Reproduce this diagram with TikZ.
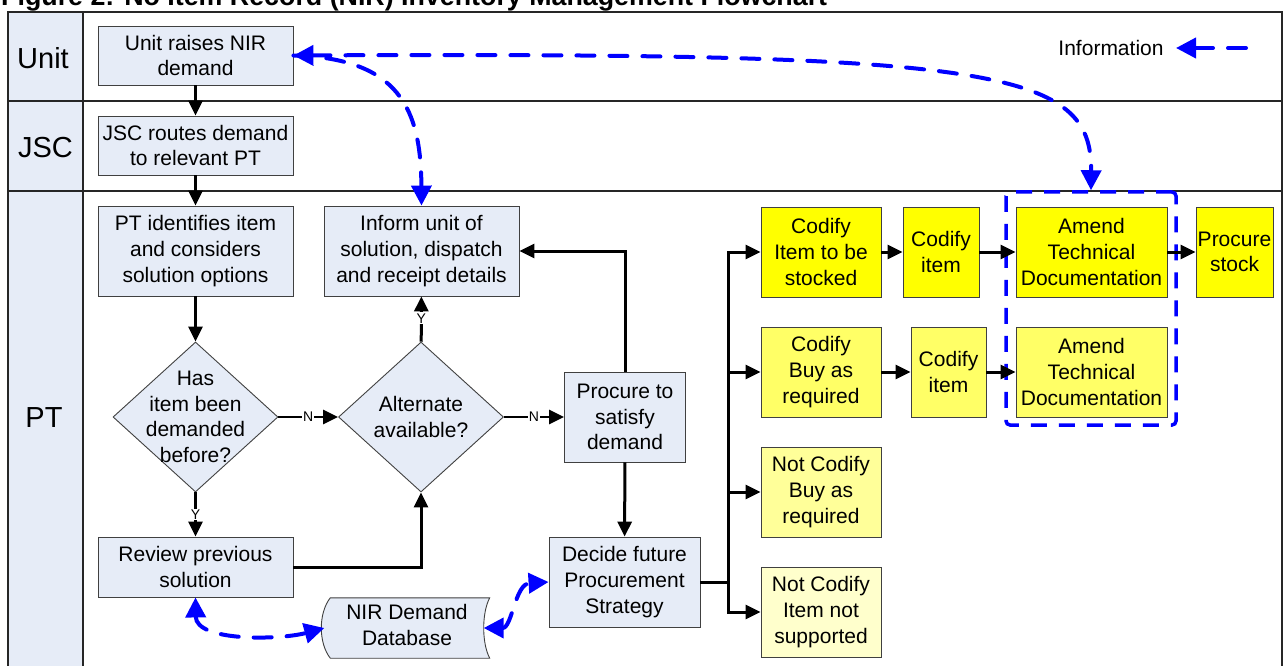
\documentclass[tikz,border=0pt]{standalone}
\usepackage{fontspec}
\setmainfont{Liberation Sans}
\usetikzlibrary{arrows.meta,shapes.geometric,calc}

\definecolor{laneblue}{RGB}{230,236,247}
\definecolor{boxline}{RGB}{64,64,64}
\definecolor{yelA}{RGB}{255,255,0}
\definecolor{yelB}{RGB}{255,255,102}
\definecolor{yelC}{RGB}{255,255,153}
\definecolor{yelD}{RGB}{255,255,204}
\definecolor{infoblue}{RGB}{0,0,255}

\begin{document}
\begin{tikzpicture}[x=1pt,y=-1pt,
  txt/.style={font=\fontsize{21}{25.7}\selectfont, align=center, inner sep=0pt},
  proc/.style={txt, draw=boxline, line width=0.9pt, fill=laneblue, minimum height=60pt},
  ybox/.style={txt, draw=boxline, line width=0.9pt, minimum height=90pt},
  decision/.style={diamond, draw=boxline, line width=0.9pt, fill=laneblue,
    minimum width=165pt, minimum height=150pt, inner sep=0pt},
  lanelabel/.style={font=\fontsize{29}{32}\selectfont, inner sep=0pt},
  flow/.style={draw=black, line width=3pt, -{Triangle[length=15pt,width=14pt]}},
  thinflow/.style={draw=black, line width=2.5pt, -{Triangle[length=15pt,width=14pt]}},
  plainline/.style={draw=black, line width=3pt},
  tag/.style={font=\fontsize{14}{15}\selectfont, fill=white, inner sep=1pt},
  info/.style={draw=infoblue, line width=4pt, line cap=round, dash pattern=on 18pt off 15pt},
  infoboth/.style={info, {Triangle[length=20pt,width=20pt]}-{Triangle[length=20pt,width=20pt]}},
  infoend/.style={info, -{Triangle[length=20pt,width=20pt]}},
  infostart/.style={info, {Triangle[length=20pt,width=20pt]}-},
]
\useasboundingbox (0,0) rectangle (1283,666);

% title (runs off the top edge)
\node[anchor=base west, inner sep=0pt, font=\bfseries\fontsize{26.8}{30}\selectfont] (title) at (1,6)
  {Figure 2: No Item Record (NIR) Inventory Management Flowchart};

% swimlanes
\fill[laneblue] (8,12) rectangle (83,690);
\draw[line width=1.4pt, draw=black!85] (8,12) rectangle (1282,690);
\draw[line width=1.4pt, draw=black!85] (83,12) -- (83,690);
\draw[line width=1.2pt, draw=black!85] (8,101) -- (1282,101);
\draw[line width=1.2pt, draw=black!85] (8,191) -- (1282,191);
\node[lanelabel] (lunit) at (43,58) {Unit};
\node[lanelabel] (ljsc) at (45.5,148) {JSC};
\node[lanelabel] (lpt) at (44,418) {PT};

% process boxes
\node[proc, minimum width=195pt, minimum height=59pt] (unit) at (195.5,55.5) {Unit raises NIR\\demand};
\node[proc, minimum width=195pt, minimum height=59pt] (jsc) at (195.5,145.5) {JSC routes demand\\to relevant PT};
\node[proc, minimum width=195pt, minimum height=90pt] (ptid) at (195.5,251) {PT identifies item\\and considers\\solution options};
\node[proc, minimum width=195pt, minimum height=90pt] (inform) at (421.5,251) {Inform unit of\\solution, dispatch\\and receipt details};
\node[decision] (d1) at (195.5,417) {};
\node[txt] (d1t) at (d1) {Has\\item been\\demanded\\before?};
\node[decision] (d2) at (421,417) {};
\node[txt] (d2t) at (d2) {Alternate\\available?};
\node[proc, minimum width=121pt, minimum height=90pt] (procure) at (625,417) {Procure to\\satisfy\\demand};
\node[proc, minimum width=151pt, minimum height=90pt] (decide) at (624.5,582) {Decide future\\Procurement\\Strategy};
\node[proc, minimum width=195pt, minimum height=60pt] (review) at (195.5,567) {Review previous\\solution};

% stored data shape
\node[txt, minimum width=165pt, minimum height=60pt] (db) at (407,628) {};
\draw[draw=boxline, line width=0.9pt, fill=laneblue]
  ($(db.north west)+(6,0)$) -- (db.north east)
  .. controls ($(db.east)+(-8,-15)$) and ($(db.east)+(-8,15)$) .. (db.south east)
  -- ($(db.south west)+(6,0)$)
  .. controls ($(db.west)+(-6,15)$) and ($(db.west)+(-6,-15)$) .. cycle;
\node[txt] (dbt) at (407,625) {NIR Demand\\Database};
\coordinate (dbR) at ($(db.east)+(-6,0)$);
\coordinate (dbL) at ($(db.west)+(0,0)$);

% outcome boxes
\node[ybox, fill=yelA, minimum width=120pt] (cA) at (821,252) {Codify\\Item to be\\stocked};
\node[ybox, fill=yelA, minimum width=76pt] (cB) at (941,252) {Codify\\item};
\node[ybox, fill=yelA, minimum width=151pt] (cC) at (1091.5,252) {Amend\\Technical\\Documentation};
\node[ybox, fill=yelA, minimum width=77pt] (cD) at (1234.5,252) {Procure\\stock};
\node[ybox, fill=yelB, minimum width=120pt] (dA) at (821,372) {Codify\\Buy as\\required};
\node[ybox, fill=yelB, minimum width=75pt] (dB) at (948.5,372) {Codify\\item};
\node[ybox, fill=yelB, minimum width=151pt] (dC) at (1091.5,372) {Amend\\Technical\\Documentation};
\node[ybox, fill=yelC, minimum width=120pt] (eA) at (821,492) {Not Codify\\Buy as\\required};
\node[ybox, fill=yelD, minimum width=120pt] (fA) at (821,612) {Not Codify\\Item not\\supported};

% group of documentation tasks
\node[draw=infoblue, line width=3.5pt, dash pattern=on 16pt off 12pt, rounded corners=4pt,
  minimum width=170pt, minimum height=233pt, inner sep=0pt] (docgroup) at (1091,308.5) {};

% process flow
\draw[flow] (unit) -- (jsc);
\draw[flow] (jsc) -- (ptid);
\draw[flow] (ptid) -- (d1);
\draw[flow] (d1) -- node[tag] {Y} (review);
\draw[thinflow] (d1) -- node[tag] {N} (d2);
\draw[flow] (d2) -- node[tag, pos=0.52] {Y} (inform);
\draw[thinflow] (d2) -- node[tag] {N} (procure);
\draw[flow] (procure.north) |- (inform.east);
\draw[flow] (procure) -- (decide);
\draw[flow] (review.east) -| (d2.south);

% outcome bus
\coordinate (bus) at (728,582);
\draw[plainline] (decide.east) -- (bus);
\draw[flow] (bus) |- (cA.west);
\draw[flow] (bus) |- (dA.west);
\draw[flow] (bus) |- (eA.west);
\draw[flow] (bus) |- (fA.west);
\draw[flow] (cA) -- (cB);
\draw[flow] (cB) -- (cC);
\draw[flow] (cC) -- (cD);
\draw[flow] (dA) -- (dB);
\draw[flow] (dB) -- (dC);

% information flows
\draw[infoboth] (unit.east) .. controls (1000,52) and (1092,70) .. (docgroup.north);
\draw[infoend] (unit.east) .. controls (400,58) and (421,110) .. (inform.north);
\draw[infoboth] (review.south) .. controls (196,642) and (280,640) .. (dbL);
\draw[infoboth] (dbR) .. controls (512,628) and (515,584) .. (decide.west);

% legend
\node[txt] (legend) at (1111,48) {Information};
\coordinate (legA) at (1176,48);
\coordinate (legB) at (1251,48);
\draw[infostart] (legA) -- (legB);
\end{tikzpicture}
\end{document}
